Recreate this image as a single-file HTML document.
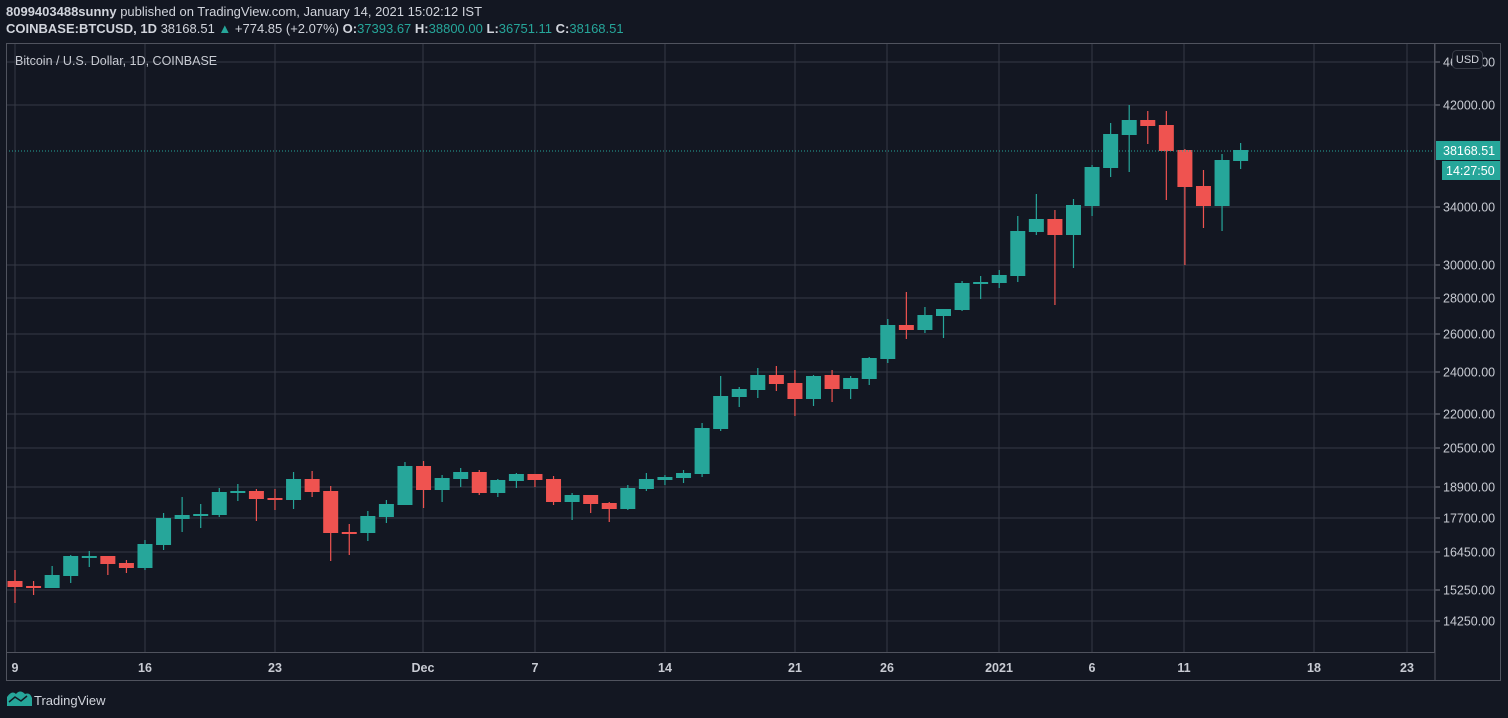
<!DOCTYPE html>
<html><head><meta charset="utf-8"><style>
html,body{margin:0;padding:0;background:#131722;width:1508px;height:718px;overflow:hidden;font-family:"Liberation Sans",sans-serif}
.h{position:absolute;left:6px;color:#d1d4dc;font-size:13px;white-space:nowrap}
.h b{color:#d1d4dc}
.t{color:#26a69a}
</style></head><body>
<div class="h" style="top:4px"><b>8099403488sunny</b> published on TradingView.com, January 14, 2021 15:02:12 IST</div>
<div class="h" style="top:21px"><b>COINBASE:BTCUSD, 1D</b> 38168.51 <span class="t">▲</span> +774.85 (+2.07%) <b>O:</b><span class="t">37393.67</span> <b>H:</b><span class="t">38800.00</span> <b>L:</b><span class="t">36751.11</span> <b>C:</b><span class="t">38168.51</span></div>
<svg id="s" width="1508" height="718" style="position:absolute;left:0;top:0" xmlns="http://www.w3.org/2000/svg" font-family="Liberation Sans, sans-serif"></svg>
<script>
const s=document.getElementById('s');let h='';
const G='#363a45';
const hy=[[62,'46000.00'],[105,'42000.00'],[207,'34000.00'],[265,'30000.00'],[298,'28000.00'],[334,'26000.00'],[372,'24000.00'],[414,'22000.00'],[448,'20500.00'],[487,'18900.00'],[518,'17700.00'],[552,'16450.00'],[590,'15250.00'],[621,'14250.00']];
const vx=[[15,'9'],[145,'16'],[275,'23'],[423,'Dec'],[535,'7'],[665,'14'],[795,'21'],[887,'26'],[999,'2021'],[1092,'6'],[1184,'11'],[1314,'18'],[1407,'23']];
hy.forEach(([y,l])=>{h+=`<line x1="6" x2="1435" y1="${y}" y2="${y}" stroke="${G}"/><line x1="1435" x2="1440" y1="${y}" y2="${y}" stroke="#787b86"/><text x="1443" y="${y+4.5}" fill="#c8cbd3" font-size="12.5">${l}</text>`});
vx.forEach(([x,l])=>{h+=`<line x1="${x}" x2="${x}" y1="43" y2="652" stroke="${G}"/><text x="${x}" y="672" fill="#c8cbd3" font-size="12.5" text-anchor="middle" font-weight="bold">${l}</text>`});
const c=[[581,587,570,603,0],[586,588,581,595,0],[575,588,566,588,1],[556,576,555,583,1],[556,557,551,567,1],[556,564,556,575,0],[563,568,560,573,0],[544,568,540,570,1],[518,545,513,550,1],[515,519,497,532,1],[514,516,504,528,1],[492,515,488,517,1],[491,493,484,501,1],[491,499,489,521,0],[498,500,489,510,0],[479,500,472,509,1],[479,492,471,497,0],[491,533,486,561,0],[532,533,524,555,0],[516,533,511,541,1],[504,517,500,523,1],[466,505,462,505,1],[466,490,461,508,0],[478,490,475,502,1],[472,479,468,487,1],[472,493,470,495,0],[480,493,479,497,1],[474,481,473,488,1],[474,480,474,487,0],[479,502,476,505,0],[495,502,493,520,1],[495,504,495,513,0],[503,509,502,522,0],[488,509,485,510,1],[479,489,473,491,1],[477,480,475,485,1],[473,478,470,483,1],[428,474,423,477,1],[396,429,376,431,1],[389,397,387,407,1],[375,390,368,398,1],[375,384,366,391,0],[383,399,370,416,0],[376,399,375,406,1],[375,389,370,402,0],[378,389,376,399,1],[358,379,357,385,1],[325,359,319,363,1],[325,330,292,339,0],[315,330,307,333,1],[309,316,309,338,1],[283,310,281,311,1],[282,284,276,299,1],[275,283,270,288,1],[231,276,216,282,1],[219,232,194,235,1],[219,235,210,305,0],[205,235,199,268,1],[167,206,165,216,1],[134,168,123,177,1],[120,135,105,172,1],[120,126,111,144,0],[125,151,111,200,0],[150,187,149,265,0],[186,206,170,228,0],[160,206,154,231,1],[150,161,143,169,1]];
c.forEach((d,i)=>{const x=15+18.57*i,col=d[4]?'#26a69a':'#ef5350';const bh=Math.max(2,d[1]-d[0]);
h+=`<line x1="${x}" x2="${x}" y1="${d[2]}" y2="${d[3]}" stroke="${col}" stroke-width="1.2"/><rect x="${x-7.5}" y="${d[0]}" width="15" height="${bh}" fill="${col}"/>`});
h+=`<line x1="6" x2="1435" y1="151" y2="151" stroke="#26a69a" stroke-dasharray="1,2"/>`;
h+=`<rect x="6.5" y="43.5" width="1428" height="609" fill="none" stroke="#50535e"/>`;
h+=`<rect x="6.5" y="43.5" width="1494" height="637" fill="none" stroke="#50535e"/>`;
h+=`<line x1="1435" x2="1435" y1="43" y2="681" stroke="#50535e"/>`;
h+=`<rect x="1436" y="141" width="64" height="19" fill="#26a69a"/><text x="1443" y="155" fill="#fff" font-size="12.5">38168.51</text>`;
h+=`<rect x="1442" y="161" width="58" height="19" fill="#26a69a"/><text x="1446" y="175" fill="#fff" font-size="12.5">14:27:50</text>`;
h+=`<rect x="1452.5" y="50.5" width="30" height="18" rx="4" fill="#131722" stroke="#363a45"/><text x="1467.5" y="63" fill="#d1d4dc" font-size="11" text-anchor="middle">USD</text>`;
h+=`<text x="15" y="65" fill="#c8cbd3" font-size="12.5">Bitcoin / U.S. Dollar, 1D, COINBASE</text>`;
h+=`<path d="M7 706 L7 697 Q12 690 16 694 Q20 689 25 694 Q30 692 32 698 L32 706 Z" fill="#26a69a"/><path d="M9 702 L15 697 L21 701 L27 696" stroke="#131722" stroke-width="1.5" fill="none"/>`;
h+=`<text x="34" y="705" fill="#d1d4dc" font-size="13">TradingView</text>`;
s.innerHTML=h;
</script>
</body></html>
